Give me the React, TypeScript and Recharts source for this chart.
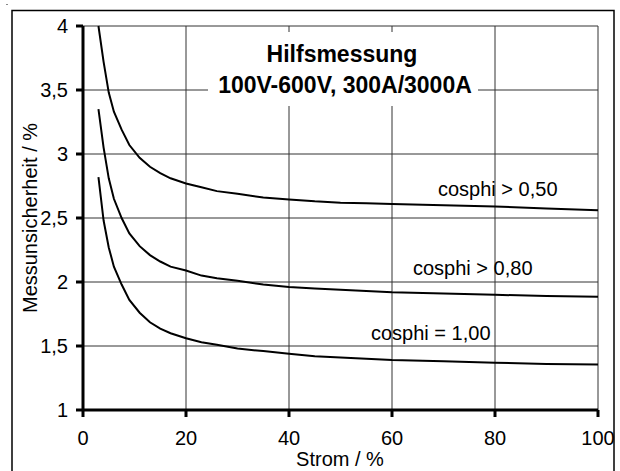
import React from 'react';
import { LineChart, Line, XAxis, YAxis, CartesianGrid, Label } from 'recharts';

const FONT = '"Liberation Sans", Arial, sans-serif';

// Strom in %
const strom = [3, 4, 5, 6, 7.5, 9, 11, 13, 15, 17, 20, 23, 26, 30, 35, 40, 45, 50, 55, 60, 70, 80, 90, 100];
// Messunsicherheit in % je cosphi
const cos050 = [4.0, 3.72, 3.48, 3.33, 3.19, 3.07, 2.97, 2.9, 2.85, 2.81, 2.77, 2.74, 2.71, 2.69, 2.66, 2.645, 2.63, 2.62, 2.615, 2.61, 2.6, 2.59, 2.575, 2.56];
const cos080 = [3.35, 3.05, 2.81, 2.65, 2.5, 2.38, 2.28, 2.21, 2.16, 2.12, 2.09, 2.05, 2.03, 2.01, 1.98, 1.96, 1.95, 1.94, 1.93, 1.92, 1.91, 1.9, 1.89, 1.885];
const cos100 = [2.82, 2.48, 2.27, 2.12, 1.98, 1.86, 1.76, 1.685, 1.635, 1.6, 1.56, 1.53, 1.51, 1.48, 1.46, 1.44, 1.42, 1.41, 1.4, 1.39, 1.38, 1.37, 1.36, 1.355];

const xTicks = [0, 20, 40, 60, 80, 100];
const yTicks = [1, 1.5, 2, 2.5, 3, 3.5, 4];

const data = strom.map((x, i) => ({ x, a: cos050[i], b: cos080[i], c: cos100[i] }));

const fmt = (v: number) => String(v).replace('.', ',');

const App = () => {
  const tickStyle = { fill: '#000', fontSize: 20, fontFamily: FONT };
  const axisLine = { stroke: '#000', strokeWidth: 3 };
  const tickLine = { stroke: '#000', strokeWidth: 3 };

  return (
    <div style={{ position: 'absolute', left: 0, top: 0, width: 620, height: 471, background: '#fff', overflow: 'hidden' }}>
      <LineChart width={620} height={471} data={data} margin={{ top: 26, right: 22, bottom: 21, left: 23 }}>
        <CartesianGrid stroke="#333" strokeWidth={1} />
        <XAxis
          dataKey="x"
          type="number"
          domain={[0, 100]}
          ticks={xTicks}
          height={40}
          axisLine={axisLine}
          tickLine={tickLine}
          tickSize={7}
          tickMargin={14}
          tick={tickStyle}
        >
          <Label
            content={() => (
              <text x={340} y={466} textAnchor="middle" fontSize={20} fontFamily={FONT} fill="#000">Strom / %</text>
            )}
          />
        </XAxis>
        <YAxis
          type="number"
          domain={[1, 4]}
          ticks={yTicks}
          width={60}
          axisLine={axisLine}
          tickLine={tickLine}
          tickSize={7}
          tickMargin={8}
          tick={tickStyle}
          tickFormatter={fmt}
        >
          <Label
            content={() => (
              <text x={37} y={218} transform="rotate(-90 37 218)" textAnchor="middle" fontSize={20} fontFamily={FONT} fill="#000">
                Messunsicherheit / %
              </text>
            )}
          />
        </YAxis>
        <Line dataKey="a" type="linear" stroke="#000" strokeWidth={2} dot={false} isAnimationActive={false} />
        <Line dataKey="b" type="linear" stroke="#000" strokeWidth={2} dot={false} isAnimationActive={false} />
        <Line dataKey="c" type="linear" stroke="#000" strokeWidth={2} dot={false} isAnimationActive={false} />
      </LineChart>
      <svg width={620} height={471} style={{ position: 'absolute', left: 0, top: 0, pointerEvents: 'none' }}>
        <rect x={6} y={4} width={2} height={1} fill="#888" />
        <rect x={12} y={10.5} width={602} height={470} fill="none" stroke="#000" strokeWidth={1.5} />
        <rect x={208} y={32} width={270} height={74} fill="#fff" />
        <text x={342} y={62} textAnchor="middle" fontSize={23} fontWeight="bold" fontFamily={FONT} fill="#000">Hilfsmessung</text>
        <text x={345} y={93} textAnchor="middle" fontSize={23} fontWeight="bold" fontFamily={FONT} fill="#000">100V-600V, 300A/3000A</text>
        <text x={438} y={196} fontSize={20} fontFamily={FONT} fill="#000">cosphi &gt; 0,50</text>
        <text x={413} y={275} fontSize={20} fontFamily={FONT} fill="#000">cosphi &gt; 0,80</text>
        <text x={371} y={340} fontSize={20} fontFamily={FONT} fill="#000">cosphi = 1,00</text>
      </svg>
    </div>
  );
};

export default App;
